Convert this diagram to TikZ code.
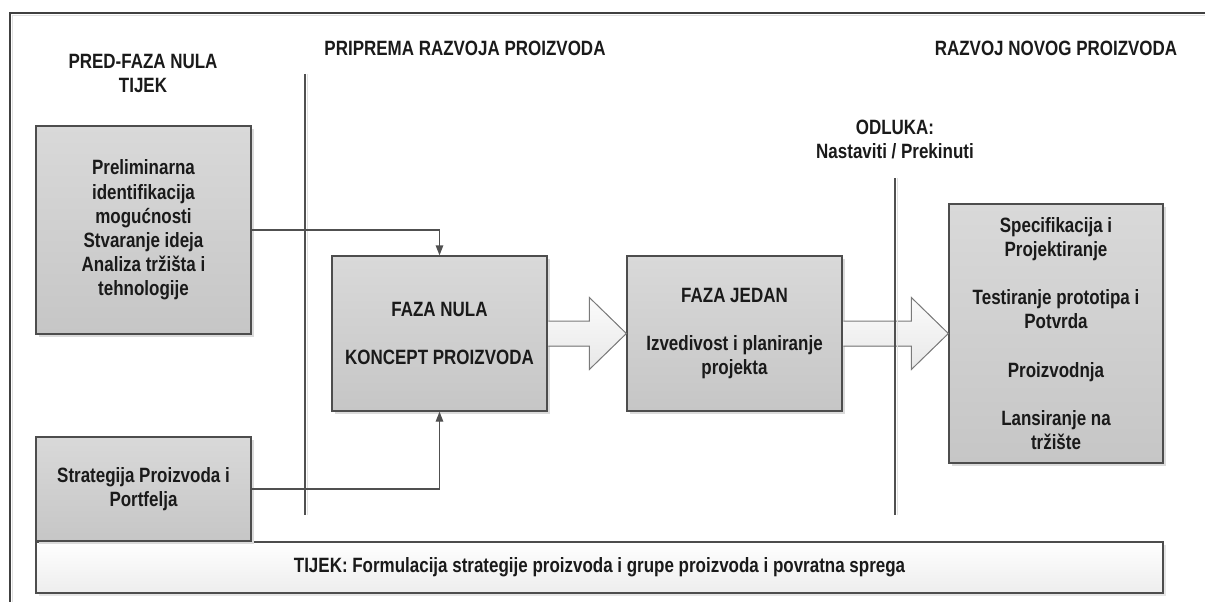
\documentclass[tikz,border=0pt]{standalone}
\usepackage{fontspec}
\setmainfont{Liberation Sans}[FakeStretch=0.82]
\usetikzlibrary{arrows.meta,calc,shadows}
\definecolor{txt}{HTML}{1A1A1A}
\definecolor{edge}{HTML}{4D4D4D}
\definecolor{linec}{HTML}{505050}
\definecolor{boxtop}{HTML}{D9D9D9}
\definecolor{boxbot}{HTML}{C6C6C6}
\definecolor{arrtop}{HTML}{FBFBFB}
\definecolor{arrbot}{HTML}{E8E8E8}
\definecolor{arredge}{HTML}{7A7A7A}
\begin{document}
\begin{tikzpicture}[x=1pt,y=-1pt,
  every node/.style={text=txt,font=\bfseries\fontsize{20.7}{24.2}\selectfont,align=center,inner sep=0pt},
  phasebox/.style={draw=edge,line width=1.3pt,top color=boxtop,bottom color=boxbot,
    drop shadow={shadow xshift=2.5pt,shadow yshift=-2.5pt,fill=black!14,opacity=1}},
  barbox/.style={draw=edge,line width=1.3pt,top color=white,bottom color=black!7,
    drop shadow={shadow xshift=2.5pt,shadow yshift=-2.5pt,fill=black!10,opacity=1}},
  bigarrow/.style={draw=arredge,line width=1pt,top color=arrtop,bottom color=arrbot},
  conn/.style={draw=linec,line width=1.3pt,-{Triangle[length=10pt,width=7.5pt]}},
  divider/.style={draw=linec,line width=1.3pt}
]
\useasboundingbox (0,0) rectangle (1205,602);
% outer frame (top and left edges visible)
\coordinate (fbl) at (10,602);
\coordinate (ftl) at (10,13);
\coordinate (ftr) at (1205,13);
\draw[black!12,line width=1.5pt] ($(fbl)+(2.5,0)$) -- ($(ftl)+(2.5,2.5)$) -- ($(ftr)+(0,2.5)$);
\draw[black!75,line width=1.3pt] (fbl) -- (ftl) -- (ftr);

% headings
\node (h1) at (143,73.5) {PRED-FAZA NULA\\TIJEK};
\node (h2) at (465,48) {PRIPREMA RAZVOJA PROIZVODA};
\node (h3) at (1056,48) {RAZVOJ NOVOG PROIZVODA};
\node (h4) at (895,139.5) {ODLUKA:\\Nastaviti / Prekinuti};

% boxes
\node[phasebox,minimum width=215pt,minimum height=208pt] (A) at (143.5,230)
  {Preliminarna\\identifikacija\\mogućnosti\\Stvaranje ideja\\Analiza tržišta i\\tehnologije};
\node[barbox,minimum width=1127pt,minimum height=51pt] (bar) at (599.5,567.5)
  {TIJEK: Formulacija strategije proizvoda i grupe proizvoda i povratna sprega};
\node[phasebox,minimum width=215pt,minimum height=104pt] (B) at (143.5,489)
  {Strategija Proizvoda i\\Portfelja};
\node[phasebox,minimum width=215pt,minimum height=155pt] (C) at (439.5,333.5)
  {FAZA NULA\\[24.2pt]KONCEPT PROIZVODA};
\node[phasebox,minimum width=215pt,minimum height=155pt] (D) at (734.5,333.5)
  {FAZA JEDAN\\[24.2pt]Izvedivost i planiranje\\projekta};
\node[phasebox,minimum width=214pt,minimum height=259pt] (E) at (1056,333.5)
  {Specifikacija i\\Projektiranje\\[24.2pt]Testiranje prototipa i\\Potvrda\\[24.2pt]Proizvodnja\\[24.2pt]Lansiranje na\\tržište};

% big block arrows
\filldraw[bigarrow] ($(C.east)+(0.6,-12.5)$) -- ($(D.west)+(-37,-12.5)$) -- ($(D.west)+(-37,-36)$)
  -- (D.west) -- ($(D.west)+(-37,36)$) -- ($(D.west)+(-37,12.5)$) -- ($(C.east)+(0.6,12.5)$);
\filldraw[bigarrow] ($(D.east)+(0.6,-12.5)$) -- ($(E.west)+(-37,-12.5)$) -- ($(E.west)+(-37,-36)$)
  -- (E.west) -- ($(E.west)+(-37,36)$) -- ($(E.west)+(-37,12.5)$) -- ($(D.east)+(0.6,12.5)$);

% dividers
\coordinate (v1t) at (305,74);
\coordinate (v1b) at (305,515);
\coordinate (v2t) at (895,178);
\coordinate (v2b) at (895,515);
\draw[black!12,line width=1.3pt] ($(v1t)+(2.5,0)$) -- ($(v1b)+(2.5,0)$);
\draw[black!12,line width=1.3pt] ($(v2t)+(2.5,0)$) -- ($(v2b)+(2.5,0)$);
\draw[divider] (v1t) -- (v1b);
\draw[divider] (v2t) -- (v2b);

% connectors
\draw[conn] (A.east) -| (C.north);
\draw[conn] (B.east) -| (C.south);
\end{tikzpicture}
\end{document}
